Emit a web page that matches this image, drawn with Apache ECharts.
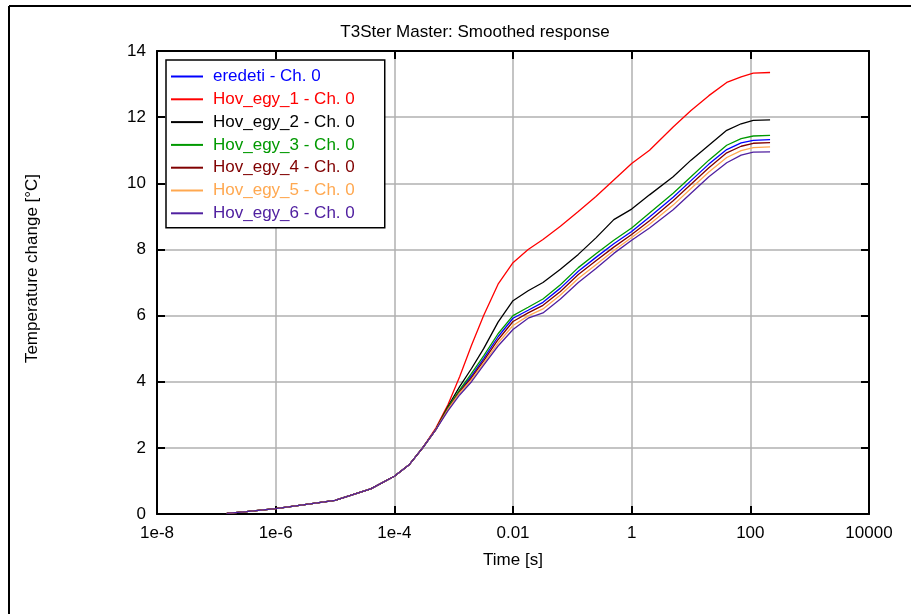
<!DOCTYPE html>
<html>
<head>
<meta charset="utf-8">
<script src="https://cdn.jsdelivr.net/npm/echarts@6/dist/echarts.min.js"></script>
<style>html,body{margin:0;padding:0;background:#fff}#c{width:911px;height:614px}</style>
</head>
<body>
<div id="c"></div>
<script>
// Time samples [s]
const times = [1.5e-7, 3.2e-7, 1e-6, 2.5e-6, 1e-5, 4e-5, 1e-4, 1.8e-4, 3e-4, 5e-4, 8e-4,
  1.26e-3, 2e-3, 3.2e-3, 5.6e-3, 0.01, 0.018, 0.032, 0.063, 0.126, 0.25, 0.5, 1, 2, 5, 10, 20, 40, 70, 112, 215];

const seriesNames = ['eredeti - Ch. 0', 'Hov_egy_1 - Ch. 0', 'Hov_egy_2 - Ch. 0', 'Hov_egy_3 - Ch. 0',
  'Hov_egy_4 - Ch. 0', 'Hov_egy_5 - Ch. 0', 'Hov_egy_6 - Ch. 0'];
const seriesColors = ['#0000ff', '#ff0000', '#000000', '#009900', '#800000', '#ffa850', '#5020a0'];

const eredeti = [0.02, 0.07, 0.16, 0.26, 0.41, 0.76, 1.14, 1.5, 2.0, 2.55, 3.2,
  3.72, 4.18, 4.7, 5.36, 5.92, 6.16, 6.4, 6.83, 7.34, 7.76, 8.17, 8.54, 8.98, 9.58, 10.08, 10.58, 11.02, 11.22, 11.3, 11.32];
const hov1 = [0.02, 0.07, 0.16, 0.26, 0.41, 0.76, 1.14, 1.5, 2.0, 2.6, 3.3,
  4.15, 5.1, 6.0, 6.95, 7.6, 8.0, 8.3, 8.7, 9.15, 9.6, 10.1, 10.6, 11.0, 11.7, 12.2, 12.65, 13.05, 13.22, 13.33, 13.35];
const hov2 = [0.02, 0.07, 0.16, 0.26, 0.41, 0.76, 1.14, 1.5, 2.0, 2.55, 3.25,
  3.85, 4.4, 5.0, 5.8, 6.45, 6.75, 7.0, 7.4, 7.85, 8.35, 8.9, 9.22, 9.65, 10.2, 10.7, 11.15, 11.6, 11.8, 11.9, 11.92];
const hov3 = [0.02, 0.07, 0.16, 0.26, 0.41, 0.76, 1.14, 1.5, 2.0, 2.55, 3.22,
  3.75, 4.25, 4.78, 5.45, 6.0, 6.25, 6.5, 6.93, 7.45, 7.87, 8.28, 8.65, 9.1, 9.7, 10.2, 10.7, 11.15, 11.35, 11.43, 11.45];
const hov4 = [0.02, 0.07, 0.16, 0.26, 0.41, 0.76, 1.14, 1.5, 2.0, 2.55, 3.18,
  3.69, 4.12, 4.63, 5.27, 5.82, 6.08, 6.31, 6.73, 7.24, 7.66, 8.07, 8.45, 8.87, 9.47, 9.97, 10.47, 10.92, 11.12, 11.21, 11.23];
const hov5 = [0.02, 0.07, 0.16, 0.26, 0.41, 0.76, 1.14, 1.5, 2.0, 2.55, 3.16,
  3.66, 4.06, 4.56, 5.17, 5.7, 5.99, 6.2, 6.62, 7.12, 7.54, 7.97, 8.36, 8.76, 9.34, 9.84, 10.34, 10.78, 10.99, 11.08, 11.1];
const hov6 = [0.02, 0.07, 0.16, 0.26, 0.41, 0.76, 1.14, 1.5, 2.0, 2.55, 3.12,
  3.6, 4.0, 4.5, 5.08, 5.58, 5.92, 6.08, 6.5, 7.0, 7.42, 7.88, 8.28, 8.65, 9.2, 9.7, 10.2, 10.62, 10.85, 10.94, 10.95];

// x tick labels at decade exponents -8, -6, ..., 4
const xTickExps = [-8, -6, -4, -2, 0, 2, 4];
const xTickLabels = ['1e-8', '1e-6', '1e-4', '0.01', '1', '100', '10000'];

const allValues = [eredeti, hov1, hov2, hov3, hov4, hov5, hov6];

const FONT = 'Liberation Sans, Arial, sans-serif';
const chart = echarts.init(document.getElementById('c'), null, {renderer: 'canvas'});

const axisLineStyle = {show: true, onZero: false, lineStyle: {color: '#000', width: 2}};
const tickStyle = {show: true, inside: true, length: 8, lineStyle: {color: '#000', width: 2}};

const series = allValues.map((vals, i) => ({
  name: seriesNames[i],
  type: 'line',
  xAxisIndex: 0,
  yAxisIndex: 0,
  symbol: 'none',
  showSymbol: false,
  smooth: false,
  lineStyle: {color: seriesColors[i], width: 1.3},
  itemStyle: {color: seriesColors[i]},
  data: times.map((t, k) => [Math.log10(t), vals[k]])
}));

chart.setOption({
  animation: false,
  backgroundColor: '#fff',
  title: {
    text: 'T3Ster Master: Smoothed response',
    left: 470, top: 19, textAlign: 'center',
    textStyle: {fontFamily: FONT, fontSize: 17, fontWeight: 'normal', color: '#000'}
  },
  grid: {left: 157, right: 42, top: 51, bottom: 100},
  legend: {
    orient: 'vertical', left: 166, top: 60,
    padding: [8, 30, 6, 5],
    icon: 'rect',
    itemWidth: 32, itemHeight: 2, itemGap: 5.8,
    borderColor: '#000', borderWidth: 1.5, backgroundColor: '#fff',
    textStyle: {fontFamily: FONT, fontSize: 17, lineHeight: 17, padding: [0, 0, 0, 5]},
    data: seriesNames.map((n, i) => ({name: n, itemStyle: {color: seriesColors[i]}, textStyle: {color: seriesColors[i]}}))
  },
  xAxis: [{
    type: 'value', min: -8, max: 4, interval: 2, position: 'bottom',
    name: 'Time [s]', nameLocation: 'middle', nameGap: 38,
    nameTextStyle: {fontFamily: FONT, fontSize: 17, color: '#000'},
    axisLine: axisLineStyle, axisTick: tickStyle,
    axisLabel: {fontFamily: FONT, fontSize: 17, color: '#000', margin: 11,
      formatter: v => { const k = xTickExps.indexOf(Math.round(v)); return k >= 0 ? xTickLabels[k] : ''; }},
    splitLine: {show: true, lineStyle: {color: '#b0b0b0', width: 1.5}}
  }, {
    type: 'value', min: -8, max: 4, interval: 2, position: 'top',
    axisLine: axisLineStyle, axisTick: tickStyle, axisLabel: {show: false}, splitLine: {show: false}
  }],
  yAxis: [{
    type: 'value', min: 0, max: 14, interval: 2, position: 'left',
    name: 'Temperature change [°C]', nameLocation: 'middle', nameGap: 116,
    nameTextStyle: {fontFamily: FONT, fontSize: 17, color: '#000', padding: [0, 0, 0, 28]},
    axisLine: axisLineStyle, axisTick: tickStyle,
    axisLabel: {fontFamily: FONT, fontSize: 17, color: '#000', margin: 11},
    splitLine: {show: true, lineStyle: {color: '#b0b0b0', width: 1.5}}
  }, {
    type: 'value', min: 0, max: 14, interval: 2, position: 'right',
    axisLine: axisLineStyle, axisTick: tickStyle, axisLabel: {show: false}, splitLine: {show: false}
  }],
  graphic: [
    {type: 'line', shape: {x1: 9, y1: 6, x2: 911, y2: 6}, style: {stroke: '#000', lineWidth: 2}, silent: true},
    {type: 'line', shape: {x1: 9, y1: 6, x2: 9, y2: 614}, style: {stroke: '#000', lineWidth: 2}, silent: true}
  ],
  series: series
});
</script>
</body>
</html>
